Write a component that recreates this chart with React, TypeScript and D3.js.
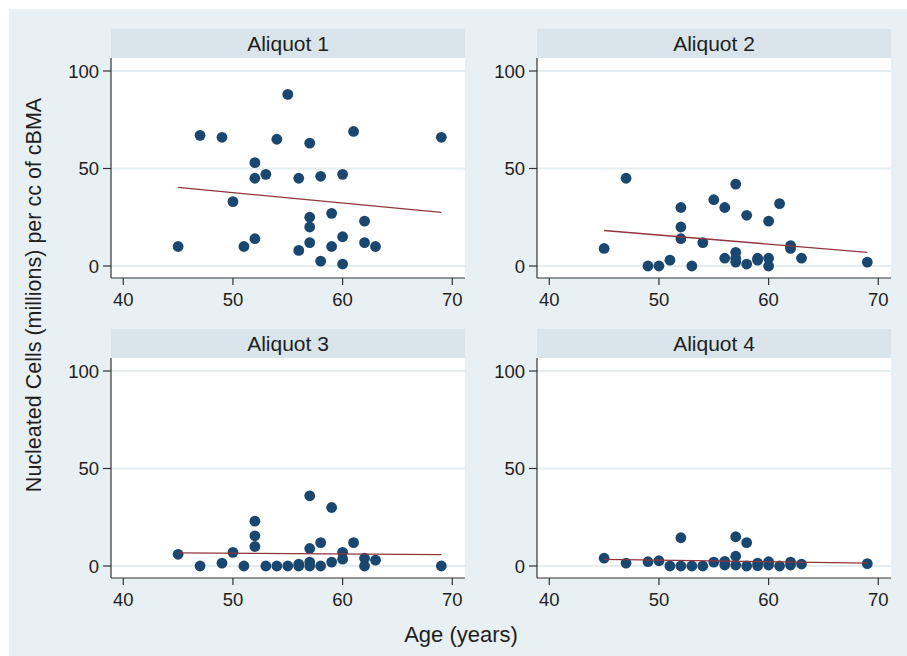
import React from "react";
import * as d3 from "d3";

const panelTitles = ["Aliquot 1", "Aliquot 2", "Aliquot 3", "Aliquot 4"];

const aliquot1: [number, number][] = [
  [45, 10], [47, 67], [49, 66], [50, 33], [51, 10], [52, 53], [52, 45], [52, 14], [53, 47], [54, 65],
  [55, 88], [56, 45], [56, 8], [57, 63], [57, 25], [57, 20], [57, 12], [58, 46], [58, 2.5], [59, 27],
  [59, 10], [60, 47], [60, 15], [60, 1], [61, 69], [62, 23], [62, 12], [63, 10], [69, 66],
];
const aliquot2: [number, number][] = [
  [45, 9], [47, 45], [49, 0], [50, 0], [51, 3], [52, 30], [52, 20], [52, 14], [53, 0], [54, 12],
  [55, 34], [56, 30], [56, 4], [57, 42], [57, 7], [57, 2], [57, 4], [58, 26], [58, 1], [59, 4],
  [59, 3], [60, 23], [60, 4], [60, 0], [61, 32], [62, 10.5], [62, 9], [63, 4], [69, 2],
];
const aliquot3: [number, number][] = [
  [45, 6], [47, 0], [49, 1.5], [50, 7], [51, 0], [52, 23], [52, 15.5], [52, 10], [53, 0], [54, 0],
  [55, 0], [56, 0], [56, 1], [57, 36], [57, 9], [57, 2], [57, 0], [58, 12], [58, 0], [59, 30],
  [59, 2], [60, 7], [60, 3.5], [61, 12], [62, 4], [62, 0], [63, 3], [69, 0],
];
const aliquot4: [number, number][] = [
  [45, 4], [47, 1.5], [49, 2.2], [50, 2.7], [51, 0], [52, 14.5], [52, 0], [53, 0], [54, 0], [55, 2],
  [56, 2.4], [56, 0.5], [57, 15], [57, 5], [57, 0.5], [58, 12], [58, 0], [59, 1.5], [59, 0.2], [60, 2.2],
  [60, 0.5], [61, 0], [62, 2], [62, 0.5], [63, 1], [69, 1.2],
];
const panelData = [aliquot1, aliquot2, aliquot3, aliquot4];

// fitted line values at the youngest (45) and oldest (69) ages
const fitAges = [45, 69];
const fitStart = [40.3, 18.2, 6.7, 3.4];
const fitEnd = [27.5, 7.0, 5.8, 1.5];

const xTicks = [40, 50, 60, 70];
const yTicks = [0, 50, 100];

const xTitle = "Age (years)";
const yTitle = "Nucleated Cells (millions) per cc of cBMA";

const W = 907;
const H = 656;
const FONT = "'Liberation Sans', Arial, Helvetica, sans-serif";
const BG = "#e8f0f3";
const STRIP = "#d9e5ea";
const GRID = "#e4edf0";
const NAVY = "#1a476f";
const MAROON = "#90353b";
const TEXT = "#1e1e1e";

const colX = [111, 537];
const rowY = [29, 329];
const plotW = 354;
const stripH = 29;
const plotH = 220;

const x = d3.scaleLinear().domain([38.88, 71.16]).range([0, plotW]);
const y = d3.scaleLinear().domain([0, 100]).range([208, 13]);
const line = d3
  .line<[number, number]>()
  .x((d) => x(d[0]))
  .y((d) => y(d[1]));

function Panel({ idx }: { idx: number }) {
  const px = colX[idx % 2];
  const py = rowY[Math.floor(idx / 2)];
  const data = panelData[idx];
  const fit: [number, number][] = [
    [fitAges[0], fitStart[idx]],
    [fitAges[1], fitEnd[idx]],
  ];
  return (
    <g>
      <rect x={px} y={py} width={plotW} height={stripH} fill={STRIP} />
      <text
        x={px + plotW / 2}
        y={py + 22}
        textAnchor="middle"
        fontSize={21}
        fill={TEXT}
        fontFamily={FONT}
      >
        {panelTitles[idx]}
      </text>
      <g transform={`translate(${px},${py + stripH})`}>
        <rect x={0} y={0} width={plotW} height={plotH} fill="#ffffff" />
        {yTicks.map((t) => (
          <line key={"g" + t} x1={0} x2={plotW} y1={y(t)} y2={y(t)} stroke={GRID} strokeWidth={2} />
        ))}
        {data.map((d, i) => (
          <circle key={i} cx={x(d[0])} cy={y(d[1])} r={5.4} fill={NAVY} />
        ))}
        <path d={line(fit) || ""} fill="none" stroke={MAROON} strokeWidth={1.3} />
        <line x1={0} x2={0} y1={0} y2={plotH} stroke="#333" strokeWidth={1.2} />
        <line x1={0} x2={plotW} y1={plotH} y2={plotH} stroke="#333" strokeWidth={1.2} />
        {yTicks.map((t) => (
          <g key={"y" + t}>
            <line x1={-8} x2={0} y1={y(t)} y2={y(t)} stroke="#333" strokeWidth={1.2} />
            <text
              x={-12}
              y={y(t)}
              dy="0.36em"
              textAnchor="end"
              fontSize={18.5}
              fill={TEXT}
              fontFamily={FONT}
            >
              {t}
            </text>
          </g>
        ))}
        {xTicks.map((t) => (
          <g key={"x" + t}>
            <line x1={x(t)} x2={x(t)} y1={plotH} y2={plotH + 7} stroke="#333" strokeWidth={1.2} />
            <text
              x={x(t)}
              y={plotH + 28}
              textAnchor="middle"
              fontSize={18.5}
              fill={TEXT}
              fontFamily={FONT}
            >
              {t}
            </text>
          </g>
        ))}
      </g>
    </g>
  );
}

export default function App() {
  return (
    <svg
      width={W}
      height={H}
      style={{ position: "absolute", left: 0, top: 0 }}
      xmlns="http://www.w3.org/2000/svg"
    >
      <rect x={0} y={0} width={W} height={H} fill="#ffffff" />
      <rect x={9} y={9} width={W - 9} height={H - 9} fill={BG} />
      {[0, 1, 2, 3].map((i) => (
        <Panel key={i} idx={i} />
      ))}
      <text
        x={461}
        y={642}
        textAnchor="middle"
        fontSize={22}
        fill={TEXT}
        fontFamily={FONT}
      >
        {xTitle}
      </text>
      <text
        transform="translate(41,295) rotate(-90)"
        textAnchor="middle"
        fontSize={21.5}
        fill={TEXT}
        fontFamily={FONT}
      >
        {yTitle}
      </text>
    </svg>
  );
}
